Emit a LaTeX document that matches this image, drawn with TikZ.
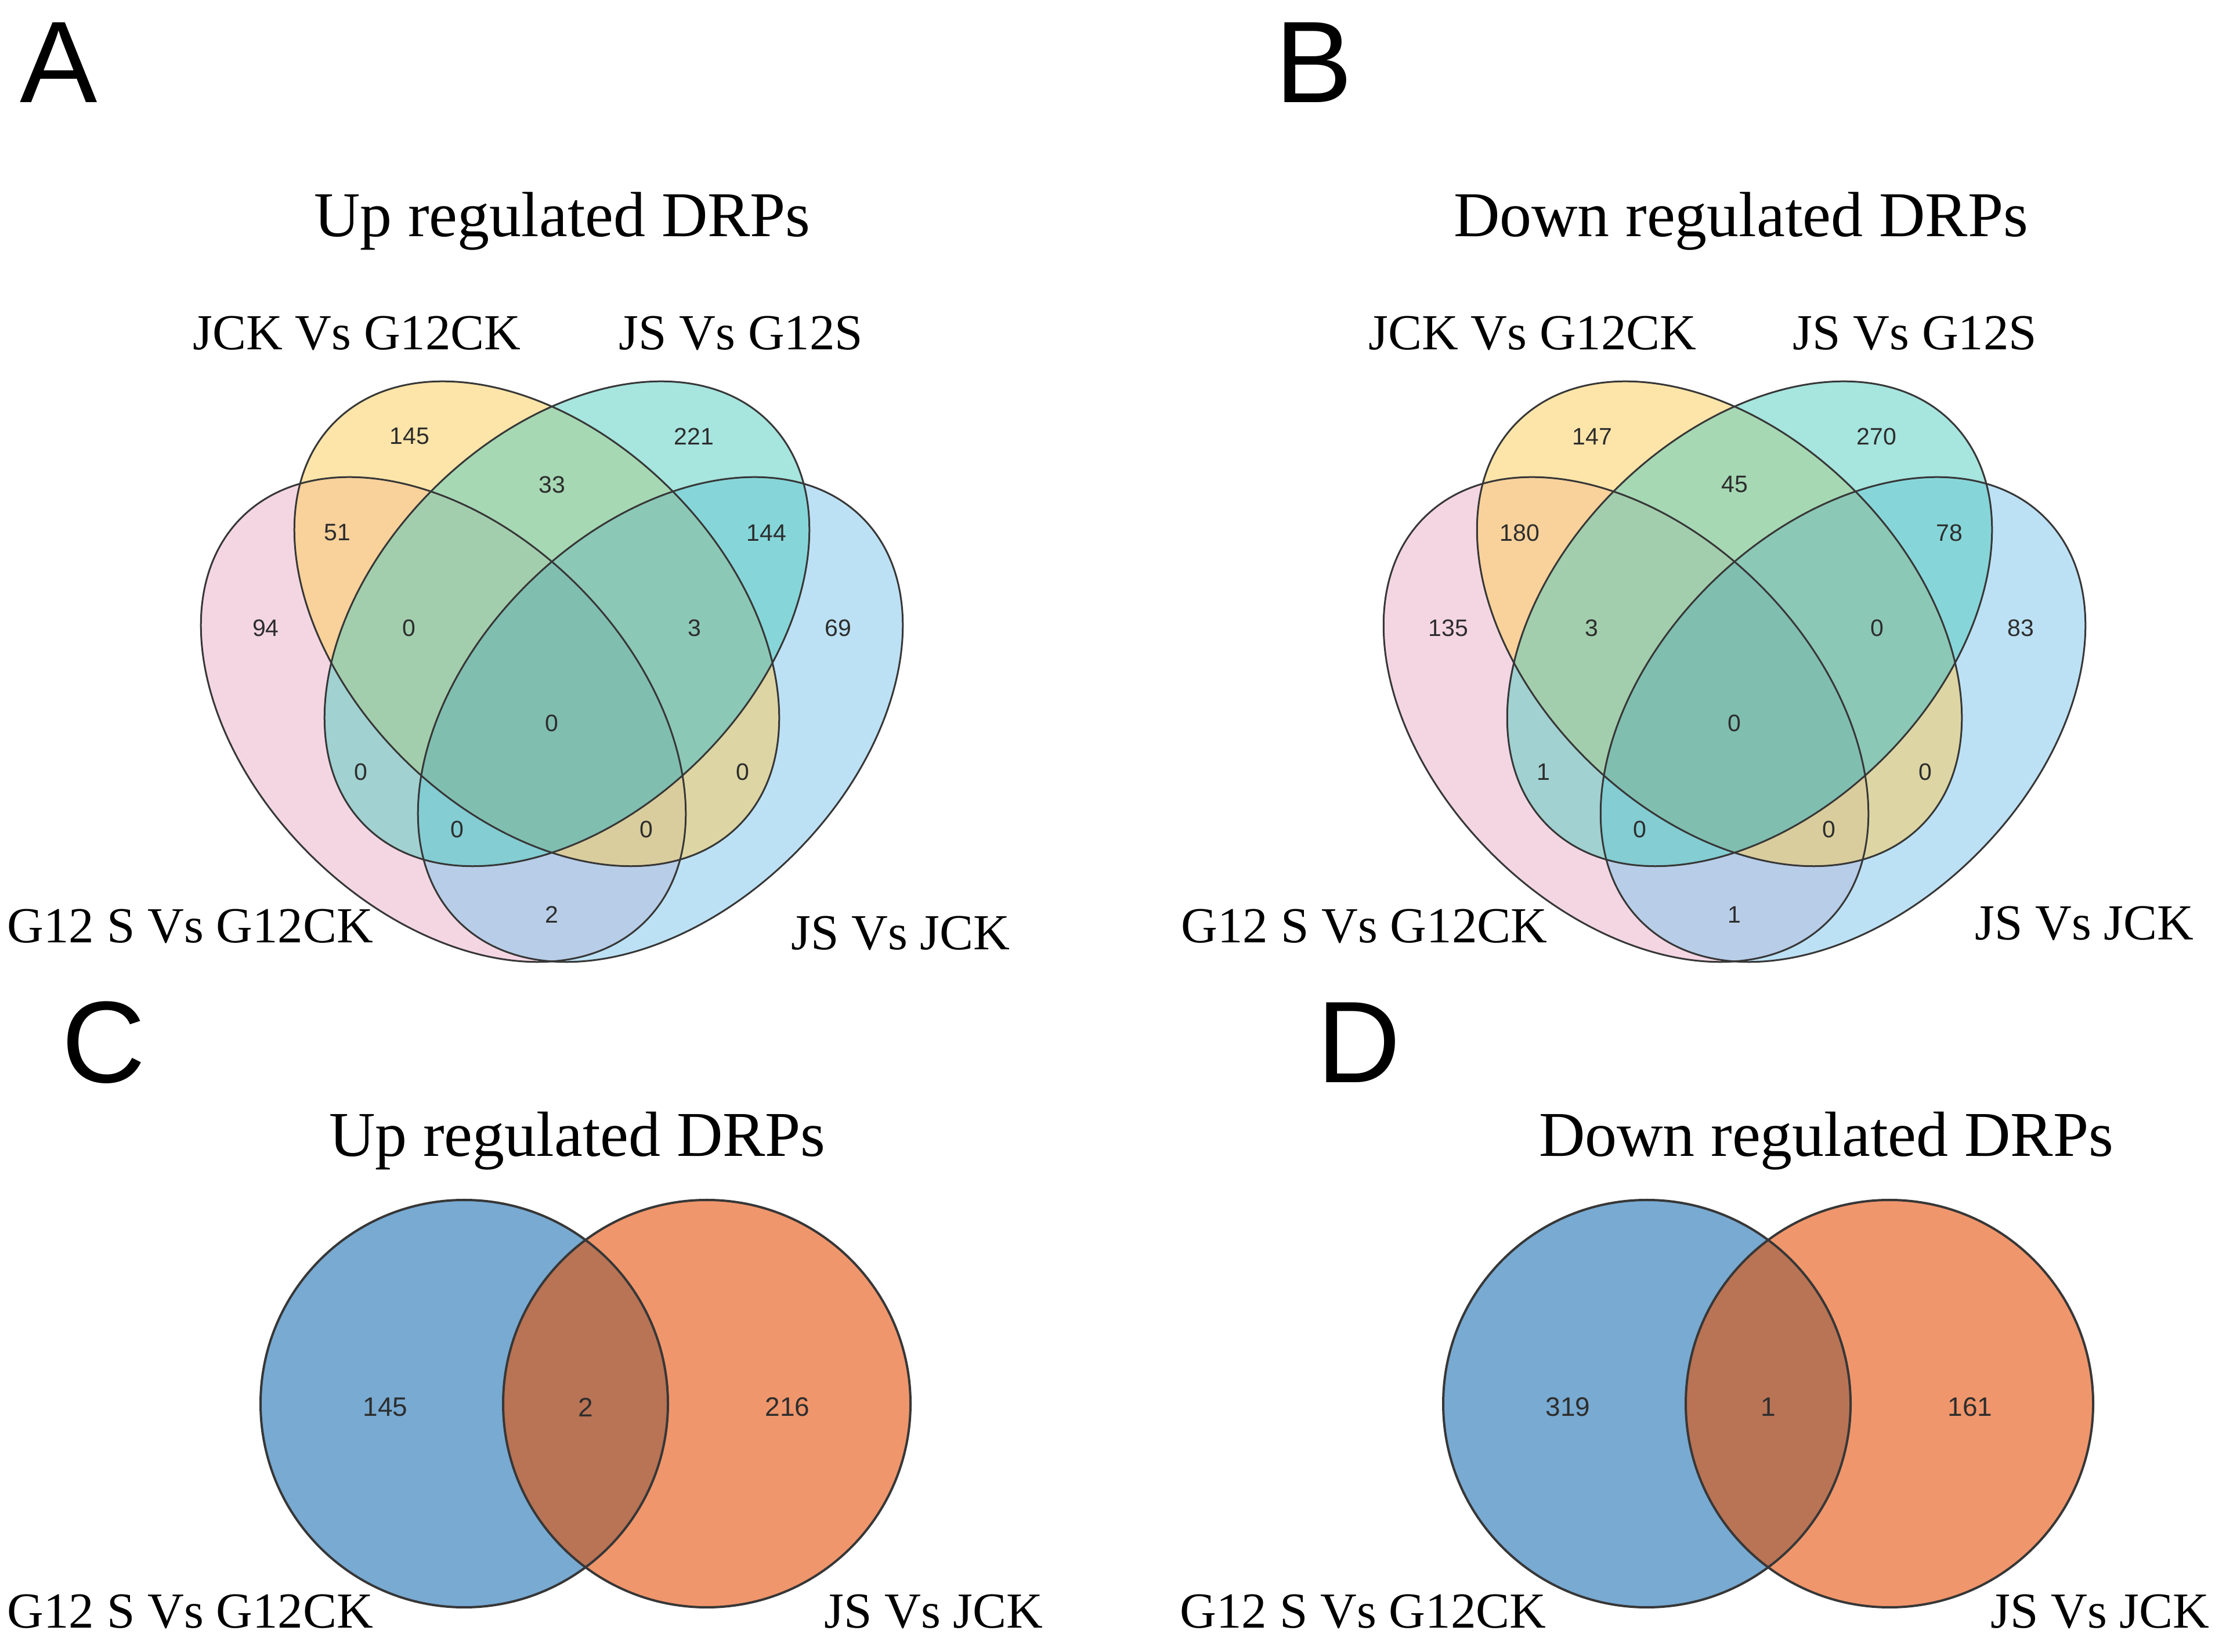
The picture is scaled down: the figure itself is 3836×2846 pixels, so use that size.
\documentclass[tikz,border=0pt]{standalone}
\usepackage{fontspec}
\setmainfont{Liberation Serif}
\newfontfamily\arialf{Liberation Sans}
\definecolor{vpink}{RGB}{235,175,201}
\definecolor{vyellow}{RGB}{253,205,85}
\definecolor{vteal}{RGB}{80,205,192}
\definecolor{vblue}{RGB}{125,197,235}
\definecolor{vytb}{RGB}{140,200,182}
\definecolor{vall}{RGB}{128,190,176}
\definecolor{cblue}{RGB}{120,170,210}
\definecolor{corange}{RGB}{240,150,108}
\definecolor{cover}{RGB}{185,115,85}
\definecolor{vlinec}{RGB}{55,55,55}
\definecolor{numc}{RGB}{45,45,45}
\tikzset{
  vfill/.style={fill opacity=0.5},
  vedge/.style={draw=vlinec, line width=3pt},
  cedge/.style={draw=vlinec, line width=4pt},
  num/.style={font=\arialf\fontsize{41}{48}\selectfont, text=numc, inner sep=0pt, anchor=center},
  bignum/.style={font=\arialf\fontsize{46}{54}\selectfont, text=numc, inner sep=0pt, anchor=center},
  lab/.style={font=\fontsize{87}{100}\selectfont, anchor=base, inner sep=0pt},
  ttl/.style={font=\fontsize{110}{130}\selectfont, anchor=base, inner sep=0pt},
  panel/.style={font=\arialf\fontsize{200}{220}\selectfont, anchor=base west, inner sep=0pt},
  epink/.style={x radius=492pt, y radius=327pt, rotate=-45},
  eblue/.style={x radius=492pt, y radius=327pt, rotate=45},
}
\newcommand{\quadvenn}{%
  \fill[vpink, vfill] (764,1606) ellipse [epink];
  \fill[vblue, vfill] (1138,1606) ellipse [eblue];
  \fill[vyellow, vfill] (925,1771) ellipse [epink];
  \fill[vteal, vfill] (977,1771) ellipse [eblue];
  \begin{scope}
    \clip (925,1771) ellipse [epink];
    \clip (977,1771) ellipse [eblue];
    \clip (1138,1606) ellipse [eblue];
    \fill[vytb] (300,1000) rectangle (1700,2400);
    \clip (764,1606) ellipse [epink];
    \fill[vall] (300,1000) rectangle (1700,2400);
  \end{scope}
  \draw[vedge] (764,1606) ellipse [epink];
  \draw[vedge] (1138,1606) ellipse [eblue];
  \draw[vedge] (925,1771) ellipse [epink];
  \draw[vedge] (977,1771) ellipse [eblue];
}
\newcommand{\twovenn}{%
  \fill[cblue] (800,427) circle [radius=351pt];
  \fill[corange] (1218,427) circle [radius=351pt];
  \begin{scope}
    \clip (800,427) circle [radius=351pt];
    \fill[cover] (1218,427) circle [radius=351pt];
  \end{scope}
  \draw[cedge] (800,427) circle [radius=351pt];
  \draw[cedge] (1218,427) circle [radius=351pt];
}
\begin{document}
\begin{tikzpicture}[x=1pt,y=1pt]
\path[use as bounding box, fill=white] (0,0) rectangle (3836,2846);

% ---------- Panel A ----------
\node[panel] (pA) at (34,2669) {A};
\node[ttl] (tA) at (969,2438) {Up regulated DRPs};
\quadvenn
\node[lab] (lA1) at (615,2243) {JCK Vs G12CK};
\node[lab] (lA2) at (1277,2243) {JS Vs G12S};
\node[lab] (lA3) at (328,1221) {G12 S Vs G12CK};
\node[lab] (lA4) at (1552,1209) {JS Vs JCK};
\node[num] (a1) at (706,2094) {145};
\node[num] (a2) at (1196,2094) {221};
\node[num] (a3) at (951,2011) {33};
\node[num] (a4) at (581,1928) {51};
\node[num] (a5) at (1321,1928) {144};
\node[num] (a6) at (458,1764) {94};
\node[num] (a7) at (705,1764) {0};
\node[num] (a8) at (1197,1764) {3};
\node[num] (a9) at (1444,1764) {69};
\node[num] (a10) at (951,1600) {0};
\node[num] (a11) at (622,1516) {0};
\node[num] (a12) at (1280,1516) {0};
\node[num] (a13) at (788,1417) {0};
\node[num] (a14) at (1114,1417) {0};
\node[num] (a15) at (951,1270) {2};

% ---------- Panel B ----------
\node[panel] (pB) at (2197,2669) {B};
\node[ttl] (tB) at (3000,2438) {Down regulated DRPs};
\begin{scope}[xshift=2038pt]
\quadvenn
\node[lab] (lB1) at (603,2243) {JCK Vs G12CK};
\node[lab] (lB2) at (1262,2243) {JS Vs G12S};
\node[lab] (lB3) at (313,1221) {G12 S Vs G12CK};
\node[lab] (lB4) at (1554,1226) {JS Vs JCK};
\node[num] (b1) at (706,2094) {147};
\node[num] (b2) at (1196,2094) {270};
\node[num] (b3) at (951,2011) {45};
\node[num] (b4) at (581,1928) {180};
\node[num] (b5) at (1321,1928) {78};
\node[num] (b6) at (458,1764) {135};
\node[num] (b7) at (705,1764) {3};
\node[num] (b8) at (1197,1764) {0};
\node[num] (b9) at (1444,1764) {83};
\node[num] (b10) at (951,1600) {0};
\node[num] (b11) at (622,1516) {1};
\node[num] (b12) at (1280,1516) {0};
\node[num] (b13) at (788,1417) {0};
\node[num] (b14) at (1114,1417) {0};
\node[num] (b15) at (951,1270) {1};
\end{scope}

% ---------- Panel C ----------
\node[panel] (pC) at (106,980) {C};
\node[ttl] (tC) at (995,853) {Up regulated DRPs};
\twovenn
\node[bignum] (c1) at (664,421) {145};
\node[bignum] (c2) at (1009,421) {2};
\node[bignum] (c3) at (1357,421) {216};
\node[lab] (lC1) at (328,41) {G12 S Vs G12CK};
\node[lab] (lC2) at (1609,41) {JS Vs JCK};

% ---------- Panel D ----------
\node[panel] (pD) at (2269,980) {D};
\node[ttl] (tD) at (3147,853) {Down regulated DRPs};
\begin{scope}[xshift=2038pt]
\twovenn
\node[bignum] (d1) at (664,421) {319};
\node[bignum] (d2) at (1009,421) {1};
\node[bignum] (d3) at (1357,421) {161};
\end{scope}
\node[lab] (lD1) at (2349,41) {G12 S Vs G12CK};
\node[lab] (lD2) at (3619,41) {JS Vs JCK};
\end{tikzpicture}
\end{document}
